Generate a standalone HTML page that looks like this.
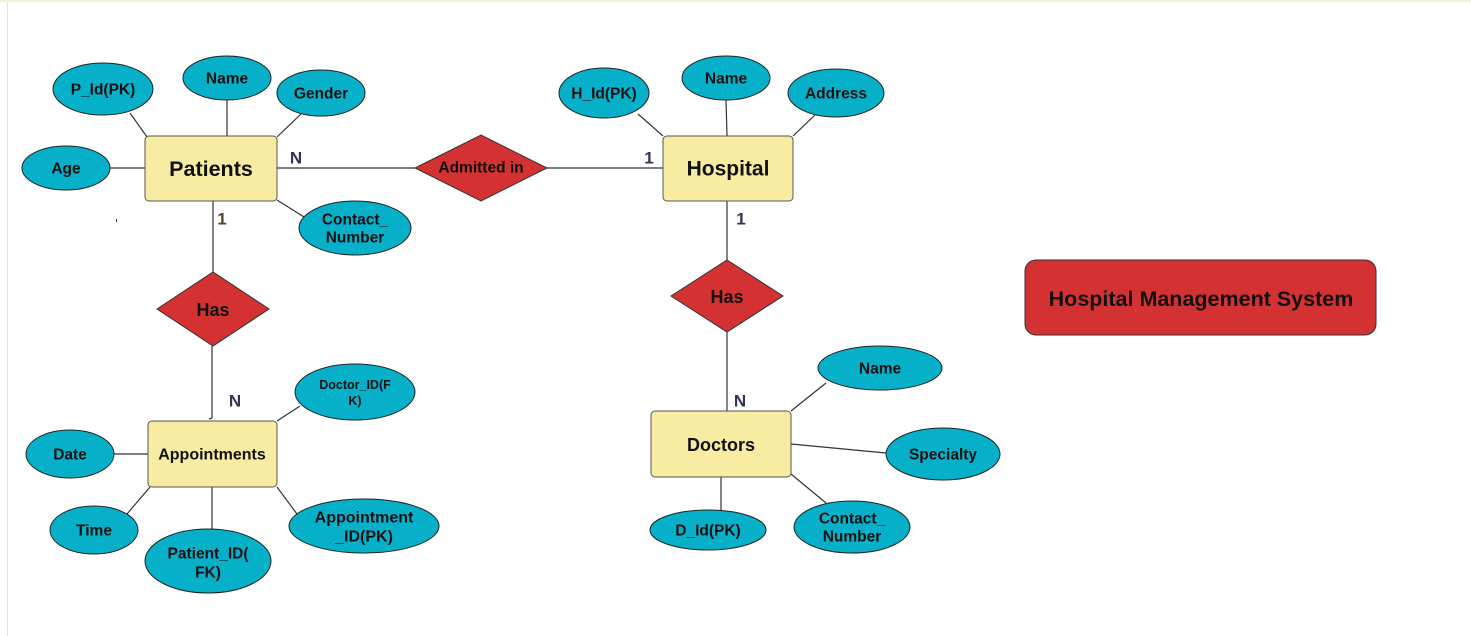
<!DOCTYPE html>
<html><head><meta charset="utf-8"><style>
html,body{margin:0;padding:0;background:#fff;}
svg{display:block;}
text{font-family:"Liberation Sans",Arial,sans-serif;font-weight:bold;fill:#111;text-anchor:middle;dominant-baseline:central;}
</style></head><body>
<svg width="1471" height="636" viewBox="0 0 1471 636" xmlns="http://www.w3.org/2000/svg">
<rect x="0" y="0" width="1471" height="636" fill="#fff"/>
<line x1="0" y1="1" x2="1471" y2="1" stroke="#f5efd6" stroke-width="2"/>
<line x1="7.5" y1="2" x2="7.5" y2="636" stroke="#e2e2e2" stroke-width="1"/>
<g stroke="#333" stroke-width="1.2" fill="none">
<line x1="130" y1="113" x2="147" y2="137"/>
<line x1="227" y1="100" x2="227" y2="136"/>
<line x1="301" y1="114" x2="277" y2="137"/>
<line x1="110" y1="168" x2="145" y2="168"/>
<line x1="277" y1="200" x2="304" y2="217"/>
<line x1="277" y1="168" x2="415" y2="168"/>
<line x1="547" y1="168" x2="663" y2="168"/>
<line x1="213" y1="201" x2="213" y2="272"/>
<line x1="212" y1="346" x2="212" y2="418"/>
<line x1="212" y1="418" x2="209" y2="419"/>
<line x1="638" y1="114" x2="663" y2="136"/>
<line x1="726" y1="100" x2="727" y2="136"/>
<line x1="815" y1="115" x2="793" y2="136"/>
<line x1="727" y1="201" x2="727" y2="260"/>
<line x1="727" y1="332" x2="727" y2="411"/>
<line x1="300" y1="406" x2="277" y2="421"/>
<line x1="114" y1="454" x2="148" y2="454"/>
<line x1="127" y1="514" x2="150" y2="487"/>
<line x1="212" y1="487" x2="212" y2="529"/>
<line x1="297" y1="514" x2="277" y2="487"/>
<line x1="826" y1="383" x2="791" y2="411"/>
<line x1="791" y1="444" x2="886" y2="453"/>
<line x1="791" y1="474" x2="826" y2="503"/>
<line x1="721" y1="477" x2="721" y2="511"/>
</g>
<rect x="116" y="219" width="1" height="3" fill="#333"/>
<g fill="#06b0c9" stroke="#222" stroke-width="1">
<ellipse cx="103" cy="89" rx="50" ry="26"/>
<ellipse cx="227" cy="78" rx="44" ry="22"/>
<ellipse cx="321" cy="93" rx="44" ry="23"/>
<ellipse cx="66" cy="168" rx="44" ry="22"/>
<ellipse cx="355" cy="228" rx="56" ry="27"/>
<ellipse cx="604" cy="93" rx="45" ry="25"/>
<ellipse cx="726" cy="78" rx="44" ry="22"/>
<ellipse cx="836" cy="93" rx="48" ry="24"/>
<ellipse cx="355" cy="392" rx="60" ry="28"/>
<ellipse cx="70" cy="454" rx="44" ry="24"/>
<ellipse cx="94" cy="530" rx="44" ry="24"/>
<ellipse cx="208" cy="561" rx="63" ry="32"/>
<ellipse cx="364" cy="526" rx="75" ry="27"/>
<ellipse cx="880" cy="368" rx="62" ry="22"/>
<ellipse cx="943" cy="454" rx="57" ry="26"/>
<ellipse cx="852" cy="527" rx="58" ry="26"/>
<ellipse cx="708" cy="530" rx="58" ry="20"/>
</g>
<g fill="#f8eca2" stroke="#555" stroke-width="1">
<rect x="145" y="136" width="132" height="65" rx="4"/>
<rect x="663" y="136" width="130" height="65" rx="4"/>
<rect x="148" y="421" width="129" height="66" rx="4"/>
<rect x="651" y="411" width="140" height="66" rx="4"/>
</g>
<g fill="#d43232" stroke="#333" stroke-width="1">
<polygon points="415,168 481,135 547,168 481,201"/>
<polygon points="157,309 213,272 269,309 213,346"/>
<polygon points="671,296 727,260 783,296 727,332"/>
<rect x="1025" y="260" width="351" height="75" rx="11"/>
</g>
<text x="103" y="90" font-size="15.5">P_Id(PK)</text>
<text x="227" y="79" font-size="15.5">Name</text>
<text x="321" y="94" font-size="15.5">Gender</text>
<text x="66" y="169" font-size="15.5">Age</text>
<text x="355" y="220" font-size="15.5">Contact_</text>
<text x="355" y="238" font-size="15.5">Number</text>
<text x="211" y="169" font-size="21.5">Patients</text>
<text x="481" y="168" font-size="15.5">Admitted in</text>
<text x="728" y="169" font-size="21">Hospital</text>
<text x="604" y="94" font-size="15.5">H_Id(PK)</text>
<text x="726" y="79" font-size="15.5">Name</text>
<text x="836" y="94" font-size="15.5">Address</text>
<text x="213" y="310" font-size="18">Has</text>
<text x="727" y="297" font-size="18">Has</text>
<text x="212" y="455" font-size="16">Appointments</text>
<text x="355" y="385" font-size="12.5">Doctor_ID(F</text>
<text x="355" y="401" font-size="12.5">K)</text>
<text x="70" y="455" font-size="15.5">Date</text>
<text x="94" y="531" font-size="15.5">Time</text>
<text x="208" y="554" font-size="15.5">Patient_ID(</text>
<text x="208" y="573" font-size="15.5">FK)</text>
<text x="364" y="518" font-size="16">Appointment</text>
<text x="364" y="537" font-size="16">_ID(PK)</text>
<text x="721" y="445" font-size="18">Doctors</text>
<text x="880" y="369" font-size="15.5">Name</text>
<text x="943" y="455" font-size="15.5">Specialty</text>
<text x="852" y="519" font-size="15.5">Contact_</text>
<text x="852" y="537" font-size="15.5">Number</text>
<text x="708" y="531" font-size="15.5">D_Id(PK)</text>
<text x="1201" y="299" font-size="21.5">Hospital Management System</text>
<g font-size="17">
<text x="296" y="158" style="fill:#333355">N</text>
<text x="649" y="158" style="fill:#333355">1</text>
<text x="222" y="219" style="fill:#554422">1</text>
<text x="235" y="401" style="fill:#333355">N</text>
<text x="741" y="219" style="fill:#333355">1</text>
<text x="740" y="401" style="fill:#333355">N</text>
</g>
</svg>
</body></html>
